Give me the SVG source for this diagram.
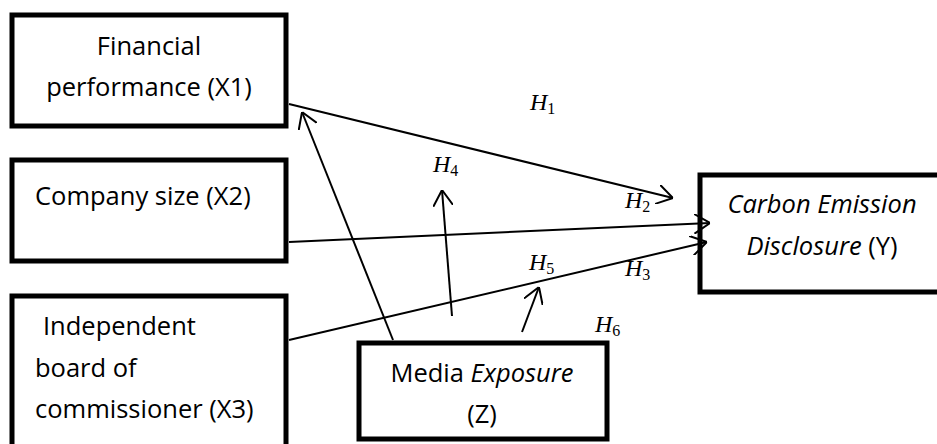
<svg xmlns="http://www.w3.org/2000/svg" width="937" height="444" viewBox="0 0 937 444">
<style>
.box{fill:#fff;stroke:#000;stroke-width:5}
.t{font-family:"Open Sans","Liberation Sans",sans-serif;font-size:25.5px;fill:#000}
.i{font-style:italic}
.h{font-family:"Liberation Serif",serif;font-size:24px;font-style:italic;fill:#000}
.s{font-style:normal;font-size:16px}
.c{fill:none;stroke:#000;stroke-width:2}
</style>
<defs>
<marker id="a" viewBox="0 0 16 20" refX="16" refY="10" markerWidth="16" markerHeight="20" markerUnits="userSpaceOnUse" orient="auto">
<path d="M0,0 L16,10 L0,20" fill="none" stroke="#000" stroke-width="2"/>
</marker>
</defs>
<rect width="937" height="444" fill="#fff"/>
<g id="x1">
<rect class="box" x="12" y="15" width="274" height="111"/>
<text class="t" x="149" y="55" text-anchor="middle">Financial</text>
<text class="t" x="149" y="96" text-anchor="middle">performance (X1)</text>
</g>
<g id="x2">
<rect class="box" x="12" y="160" width="274" height="101"/>
<text class="t" x="35" y="205">Company size (X2)</text>
</g>
<g id="x3">
<rect class="box" x="12" y="296" width="274" height="160"/>
<text class="t" x="43" y="335">Independent</text>
<text class="t" x="35" y="377">board of</text>
<text class="t" x="35" y="418">commissioner (X3)</text>
</g>
<g id="y">
<rect class="box" x="700" y="175" width="260" height="117"/>
<text class="t" x="822" y="213" text-anchor="middle"><tspan class="i">Carbon Emission</tspan></text>
<text class="t" x="822" y="255" text-anchor="middle"><tspan class="i">Disclosure</tspan> (Y)</text>
</g>
<g id="z">
<rect class="box" x="359" y="343" width="248" height="96"/>
<text class="t" x="482" y="382" text-anchor="middle">Media <tspan class="i">Exposure</tspan></text>
<text class="t" x="482" y="423" text-anchor="middle">(Z)</text>
</g>
<g id="connectors">
<line class="c" x1="289" y1="104" x2="673" y2="198" marker-end="url(#a)"/>
<line class="c" x1="289" y1="242" x2="710" y2="223" marker-end="url(#a)"/>
<line class="c" x1="289" y1="340" x2="707" y2="242" marker-end="url(#a)"/>
<line class="c" x1="393" y1="340" x2="302" y2="112" marker-end="url(#a)"/>
<line class="c" x1="452" y1="316" x2="442" y2="190" marker-end="url(#a)"/>
<line class="c" x1="522" y1="332" x2="539" y2="287" marker-end="url(#a)"/>
</g>
<g id="labels">
<text class="h" x="530" y="110">H<tspan class="s" dy="4">1</tspan></text>
<text class="h" x="433" y="172">H<tspan class="s" dy="4">4</tspan></text>
<text class="h" x="625" y="208">H<tspan class="s" dy="4">2</tspan></text>
<text class="h" x="529" y="270">H<tspan class="s" dy="4">5</tspan></text>
<text class="h" x="625" y="276">H<tspan class="s" dy="4">3</tspan></text>
<text class="h" x="595" y="332">H<tspan class="s" dy="4">6</tspan></text>
</g>
</svg>
